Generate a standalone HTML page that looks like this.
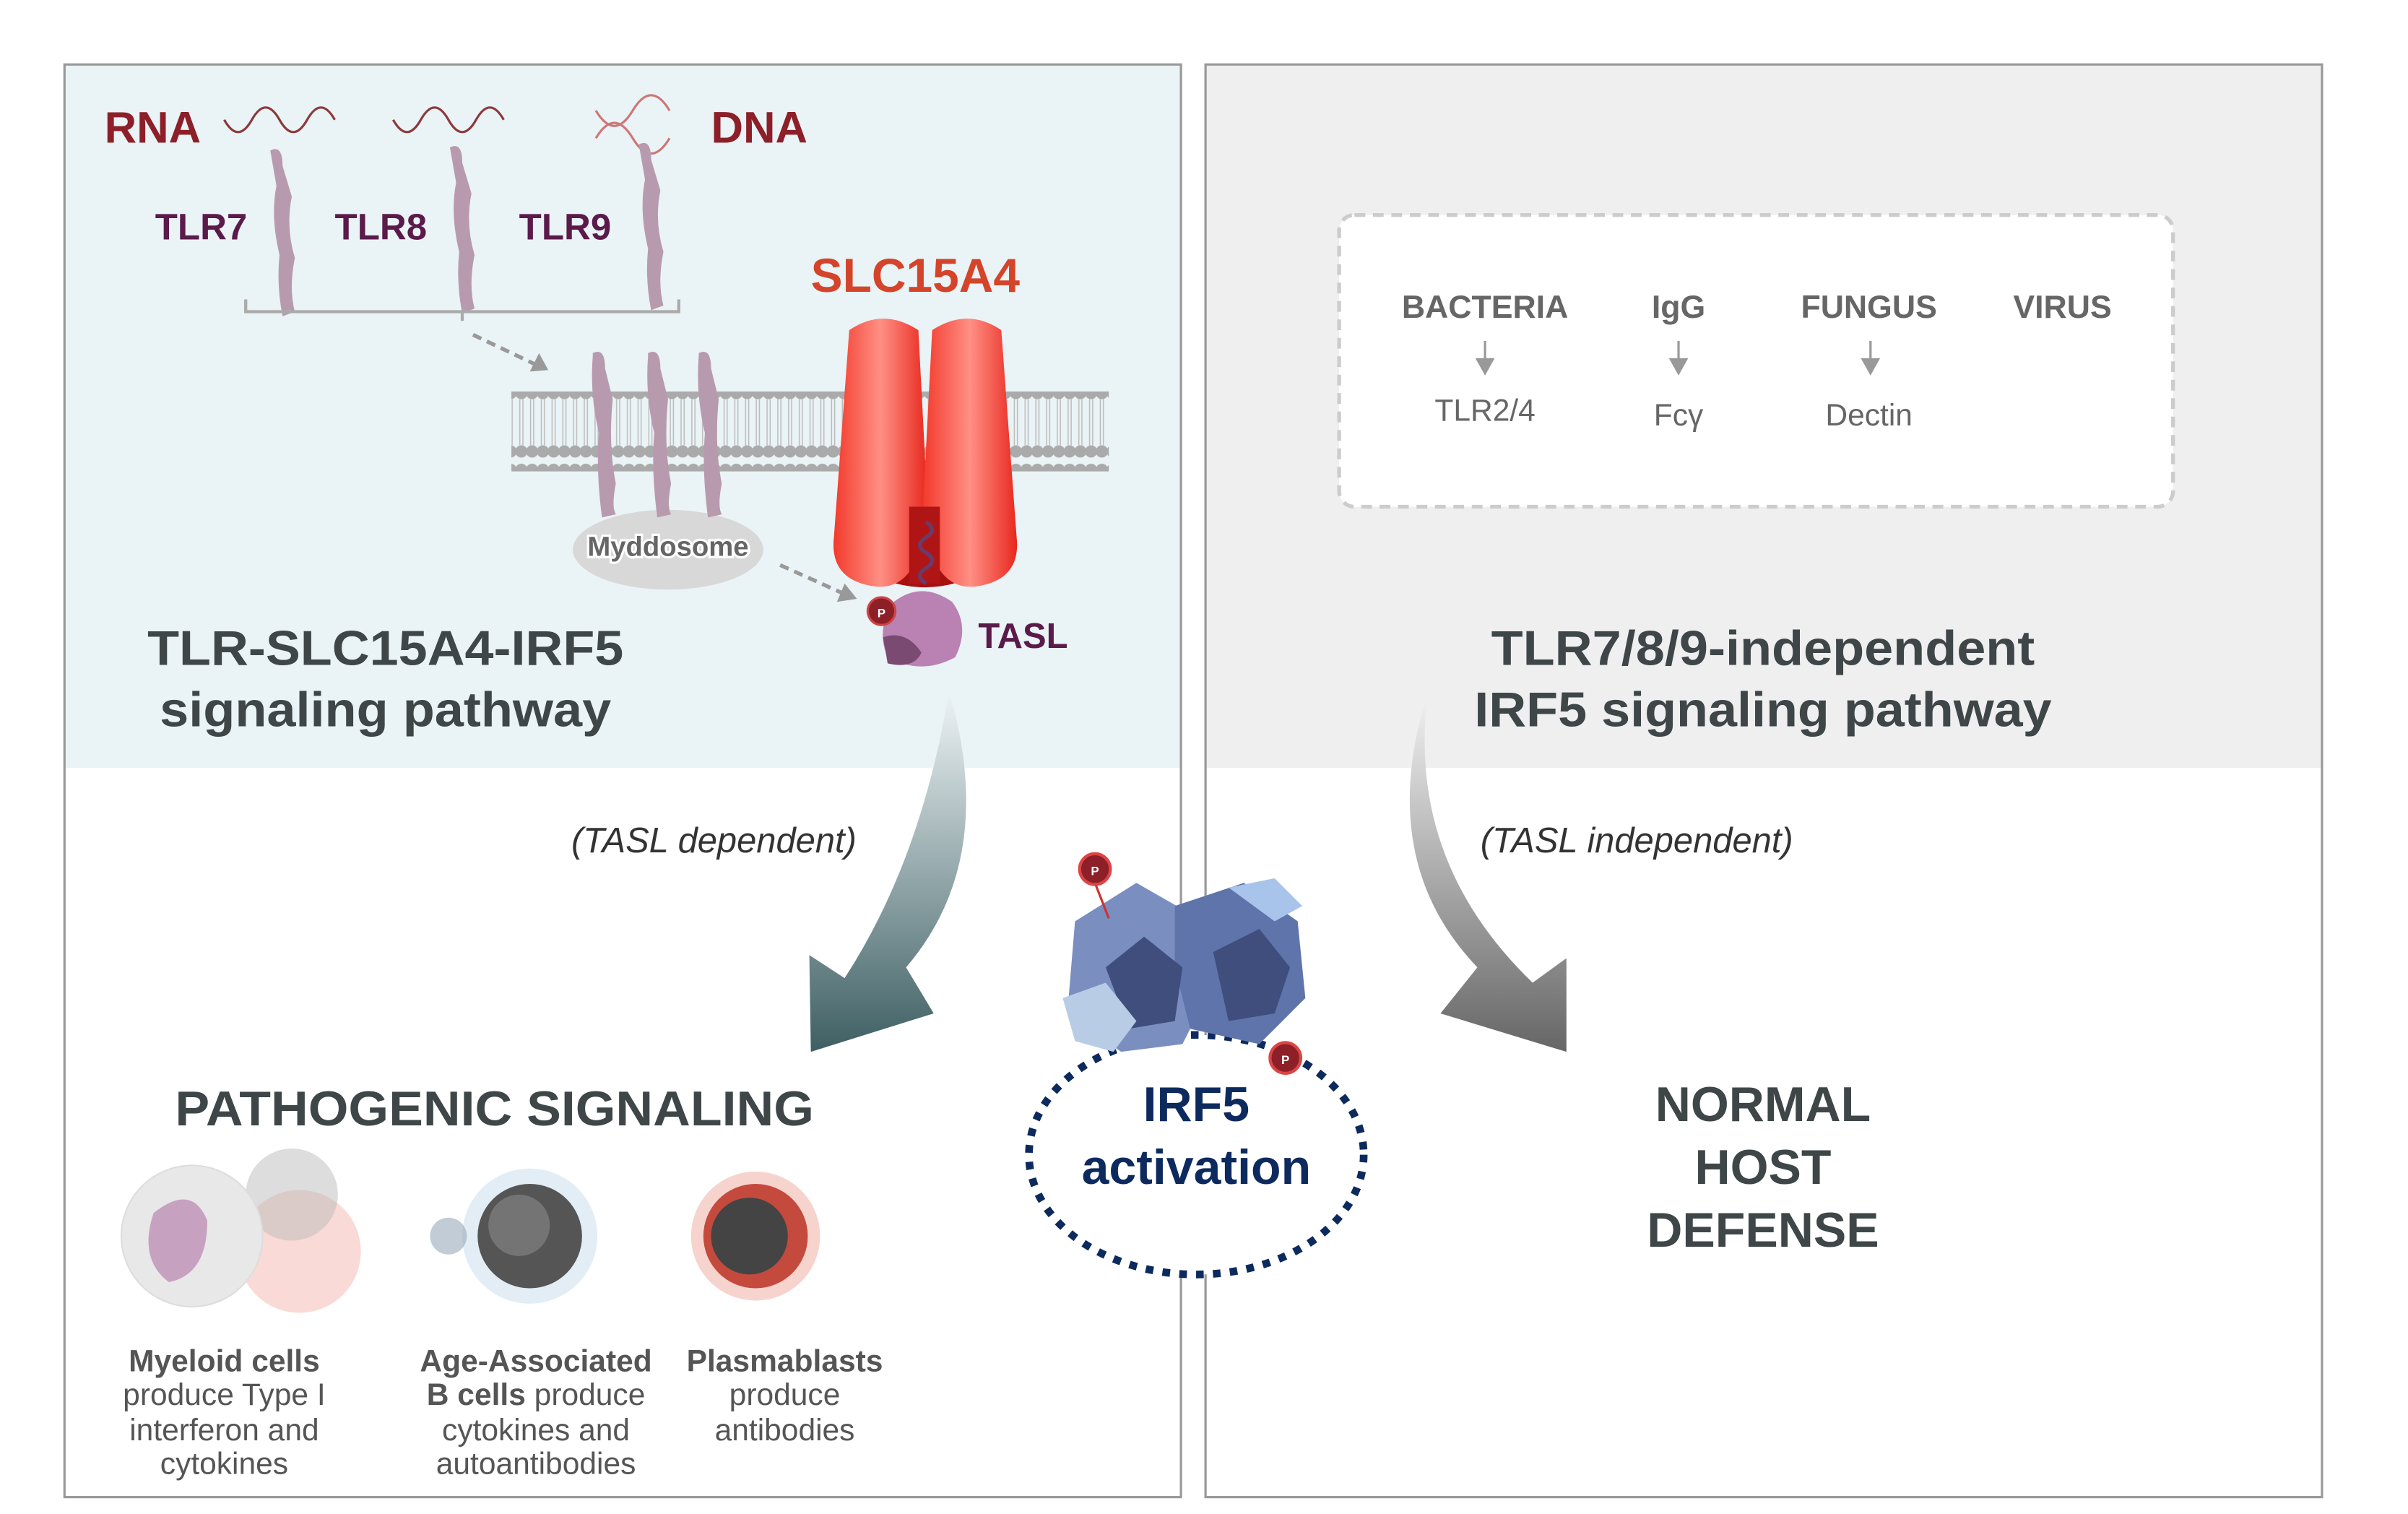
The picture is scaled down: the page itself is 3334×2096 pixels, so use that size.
<!DOCTYPE html>
<html><head><meta charset="utf-8"><style>
html,body{margin:0;padding:0;background:#fff;}
svg{display:block;}
text{font-family:"Liberation Sans",Arial,sans-serif;}
</style></head><body>
<svg width="3334" height="2096" viewBox="0 0 1568 986" preserveAspectRatio="none" xmlns="http://www.w3.org/2000/svg">
<defs>
<linearGradient id="red" x1="0" x2="1"><stop offset="0" stop-color="#f23a2c"/><stop offset="0.5" stop-color="#ff8f84"/><stop offset="1" stop-color="#e8281e"/></linearGradient>
<linearGradient id="teal" x1="0" y1="0" x2="0" y2="1"><stop offset="0" stop-color="#eef4f6"/><stop offset="1" stop-color="#3e5f63"/></linearGradient>
<linearGradient id="gray" x1="0" y1="0" x2="0" y2="1"><stop offset="0" stop-color="#f3f3f3"/><stop offset="1" stop-color="#666"/></linearGradient>
<pattern id="lip" width="7" height="50" patternUnits="userSpaceOnUse">
<circle cx="3.5" cy="6" r="4" fill="#aaa"/><circle cx="3.5" cy="44" r="4" fill="#aaa"/>
<line x1="2.5" y1="10" x2="2.5" y2="40" stroke="#bbb" stroke-width="0.7"/><line x1="4.5" y1="10" x2="4.5" y2="40" stroke="#bbb" stroke-width="0.7"/>
</pattern>
</defs>
<rect width="1568" height="986" fill="#fff"/>
<rect x="42" y="42" width="727" height="458" fill="#eaf3f6"/>
<rect x="42" y="42" width="727" height="933" fill="none" stroke="#999" stroke-width="1.5"/>
<rect x="785" y="42" width="727" height="458" fill="#efefef"/>
<rect x="785" y="42" width="727" height="933" fill="none" stroke="#999" stroke-width="1.5"/>
<rect x="872" y="140" width="543" height="190" rx="10" fill="#fff" stroke="#ccc" stroke-width="2.5" stroke-dasharray="7,5"/>
<g fill="#666" font-weight="bold" font-size="21" text-anchor="middle">
<text x="967" y="207">BACTERIA</text><text x="1093" y="207">IgG</text><text x="1217" y="207">FUNGUS</text><text x="1343" y="207">VIRUS</text>
</g>
<g fill="#666" font-size="20" text-anchor="middle">
<text x="967" y="274">TLR2/4</text><text x="1093" y="277">Fcγ</text><text x="1217" y="277">Dectin</text>
</g>
<g stroke="#999" stroke-width="1.5" fill="#999">
<line x1="967" y1="222" x2="967" y2="236"/><path d="M962 234 L972 234 L967 243Z"/>
<line x1="1093" y1="222" x2="1093" y2="236"/><path d="M1088 234 L1098 234 L1093 243Z"/>
<line x1="1218" y1="222" x2="1218" y2="236"/><path d="M1213 234 L1223 234 L1218 243Z"/>
</g>
<text x="68" y="93" font-size="29" font-weight="bold" fill="#8c1f28">RNA</text>
<text x="463" y="93" font-size="29" font-weight="bold" fill="#8c1f28">DNA</text>
<g fill="none" stroke="#8c3a3a" stroke-width="1.5">
<path d="M146 78 q9 16 18 0 q9 -16 18 0 q9 16 18 0 q9 -16 18 0"/>
<path d="M256 78 q9 16 18 0 q9 -16 18 0 q9 16 18 0 q9 -16 18 0"/>
<path d="M388 72 q12 20 24 0 q12 -20 24 0 M388 90 q12 -20 24 0 q12 20 24 0" stroke="#c77"/>
</g>
<g font-size="24" font-weight="bold" fill="#5a1a4a">
<text x="101" y="156">TLR7</text><text x="218" y="156">TLR8</text><text x="338" y="156">TLR9</text>
</g>
<g fill="#b89aae">
<path d="M176 98 q8 -4 8 10 l6 20 q-4 20 2 40 q-4 20 0 35 l-8 3 q-4 -20 -2 -40 q-6 -25 -2 -45 z"/>
<path d="M293 96 q8 -4 8 10 l6 20 q-4 20 2 40 q-4 20 0 35 l-8 3 q-4 -20 -2 -40 q-6 -25 -2 -45 z"/>
<path d="M416 94 q8 -4 8 10 l6 20 q-4 20 2 40 q-4 20 0 35 l-8 3 q-4 -20 -2 -40 q-6 -25 -2 -45 z"/>
</g>
<path d="M160 195 v8 h282 v-8 M301 203 v6" fill="none" stroke="#aaa" stroke-width="2"/>
<line x1="308" y1="218" x2="350" y2="238" stroke="#999" stroke-width="2.5" stroke-dasharray="6,4"/>
<path d="M345 242 L357 241 L351 230Z" fill="#999"/>
<rect x="333" y="255" width="389" height="52" fill="url(#lip)"/>
<ellipse cx="435" cy="358" rx="62" ry="26" fill="#d8d8d8"/>
<text x="435" y="362" font-size="18" font-weight="bold" fill="#666" text-anchor="middle" stroke="#fff" stroke-width="3" paint-order="stroke">Myddosome</text>
<g fill="#b89aae">
<path d="M386 230 q8 -4 8 10 l5 20 q-3 30 2 55 q-3 15 0 20 l-9 2 q-4 -30 -2 -55 q-6 -25 -4 -50z"/>
<path d="M422 230 q8 -4 8 10 l5 20 q-3 30 2 55 q-3 15 0 20 l-9 2 q-4 -30 -2 -55 q-6 -25 -4 -50z"/>
<path d="M455 230 q8 -4 8 10 l5 20 q-3 30 2 55 q-3 15 0 20 l-9 2 q-4 -30 -2 -55 q-6 -25 -4 -50z"/>
</g>
<line x1="508" y1="368" x2="548" y2="386" stroke="#999" stroke-width="2.5" stroke-dasharray="6,4"/>
<path d="M545 392 L558 390 L550 380Z" fill="#999"/>
<text x="528" y="190" font-size="31" font-weight="bold" fill="#d4442a">SLC15A4</text>
<path d="M560 300 L560 370 Q602 395 645 370 L645 300Z" fill="#a81010"/>
<path d="M553 215 Q575 200 598 215 L604 330 Q600 385 570 382 Q540 378 543 350 Z" fill="url(#red)"/>
<path d="M607 215 Q630 200 652 215 L662 350 Q665 378 635 382 Q605 385 601 330 Z" fill="url(#red)"/>
<path d="M592 330 L612 330 L612 380 L592 380Z" fill="#b01515"/>
<path d="M603 340 q8 5 0 10 q-8 5 0 10 q8 5 0 10 q-8 5 0 10" fill="none" stroke="#6a3a6a" stroke-width="2.5"/>
<path d="M582 392 Q600 378 620 392 Q632 408 622 428 Q600 440 578 428 Q570 410 582 392Z" fill="#b982b2"/>
<path d="M575 415 Q590 410 600 425 Q595 436 578 432Z" fill="#7a4a72"/>
<circle cx="574" cy="398" r="9" fill="#8c1f28" stroke="#c44" stroke-width="1.5"/>
<text x="574" y="402" font-size="8" fill="#fff" text-anchor="middle" font-weight="bold">P</text>
<text x="637" y="422" font-size="23" font-weight="bold" fill="#5a1a4a">TASL</text>
<g font-size="32" font-weight="bold" fill="#3e4648" text-anchor="middle">
<text x="251" y="433" textLength="310" lengthAdjust="spacingAndGlyphs">TLR-SLC15A4-IRF5</text><text x="251" y="473" textLength="294" lengthAdjust="spacingAndGlyphs">signaling pathway</text>
<text x="1148" y="433" textLength="354" lengthAdjust="spacingAndGlyphs">TLR7/8/9-independent</text><text x="1148" y="473" textLength="376" lengthAdjust="spacingAndGlyphs">IRF5 signaling pathway</text>
</g>
<path d="M618 450 Q650 560 590 630 L608 660 L528 685 L527 622 L550 637 Q600 560 618 450Z" fill="url(#teal)"/>
<path d="M930 450 Q895 560 962 630 L938 660 L1020 685 L1020 624 L998 640 Q915 560 930 450Z" fill="url(#gray)"/>
<g font-size="23" font-style="italic" fill="#333">
<text x="372" y="555">(TASL dependent)</text><text x="964" y="555">(TASL independent)</text>
</g>
<ellipse cx="779" cy="752" rx="109" ry="78" fill="#fff" stroke="#0d2a5e" stroke-width="5" stroke-dasharray="5,6"/>
<g>
<path d="M700 600 L740 575 L775 595 L790 640 L770 680 L730 685 L695 660Z" fill="#7a8fc0"/>
<path d="M765 590 L810 575 L845 600 L850 650 L820 680 L775 670 L765 630Z" fill="#5e74aa"/>
<path d="M720 630 L745 610 L770 630 L765 665 L735 670Z" fill="#3f4e7c"/>
<path d="M790 620 L820 605 L840 630 L830 660 L800 665Z" fill="#3f4e7c"/>
<path d="M692 650 L720 640 L740 665 L725 685 L700 678Z" fill="#b8cce6"/>
<path d="M800 578 L830 572 L848 590 L830 600Z" fill="#a9c4ea"/>
</g>
<line x1="713" y1="575" x2="722" y2="598" stroke="#c33" stroke-width="1.5"/>
<circle cx="713" cy="566" r="10" fill="#8c1f28" stroke="#d44" stroke-width="2"/>
<text x="713" y="570" font-size="8" fill="#fff" text-anchor="middle" font-weight="bold">P</text>
<circle cx="837" cy="689" r="10" fill="#8c1f28" stroke="#d44" stroke-width="2"/>
<text x="837" y="693" font-size="8" fill="#fff" text-anchor="middle" font-weight="bold">P</text>
<g font-size="32" font-weight="bold" fill="#0d2a5e" text-anchor="middle">
<text x="779" y="730">IRF5</text><text x="779" y="771">activation</text>
</g>
<g font-size="32" font-weight="bold" fill="#3e4648" text-anchor="middle">
<text x="1148" y="730">NORMAL</text><text x="1148" y="771">HOST</text><text x="1148" y="812">DEFENSE</text>
</g>
<text x="322" y="733" font-size="32" font-weight="bold" fill="#3e4648" text-anchor="middle" textLength="416" lengthAdjust="spacingAndGlyphs">PATHOGENIC SIGNALING</text>
<circle cx="195" cy="815" r="40" fill="#f4b5ae" opacity="0.5"/>
<circle cx="190" cy="778" r="30" fill="#bbb" opacity="0.5"/>
<circle cx="125" cy="805" r="46" fill="#e8e8e8" stroke="#ddd"/>
<path d="M100 790 Q125 770 135 795 Q135 830 110 835 Q90 820 100 790Z" fill="#c7a2c0"/>
<circle cx="345" cy="805" r="44" fill="#d6e6f2" opacity="0.7"/>
<circle cx="345" cy="805" r="34" fill="#555"/>
<circle cx="338" cy="798" r="20" fill="#888" opacity="0.6"/>
<circle cx="292" cy="805" r="12" fill="#9ab" opacity="0.6"/>
<circle cx="492" cy="805" r="42" fill="#f4c0b8" opacity="0.7"/>
<circle cx="492" cy="805" r="34" fill="#c44a3e"/>
<circle cx="488" cy="805" r="25" fill="#444"/>
<g fill="#555" font-size="20" text-anchor="middle">
<text x="146" y="893" font-weight="bold">Myeloid cells</text><text x="146" y="915">produce Type I</text><text x="146" y="938">interferon and</text><text x="146" y="960">cytokines</text>
<text x="349" y="893" font-weight="bold">Age-Associated</text><text x="349" y="915"><tspan font-weight="bold">B cells</tspan> produce</text><text x="349" y="938">cytokines and</text><text x="349" y="960">autoantibodies</text>
<text x="511" y="893" font-weight="bold">Plasmablasts</text><text x="511" y="915">produce</text><text x="511" y="938">antibodies</text>
</g>
</svg>
</body></html>
